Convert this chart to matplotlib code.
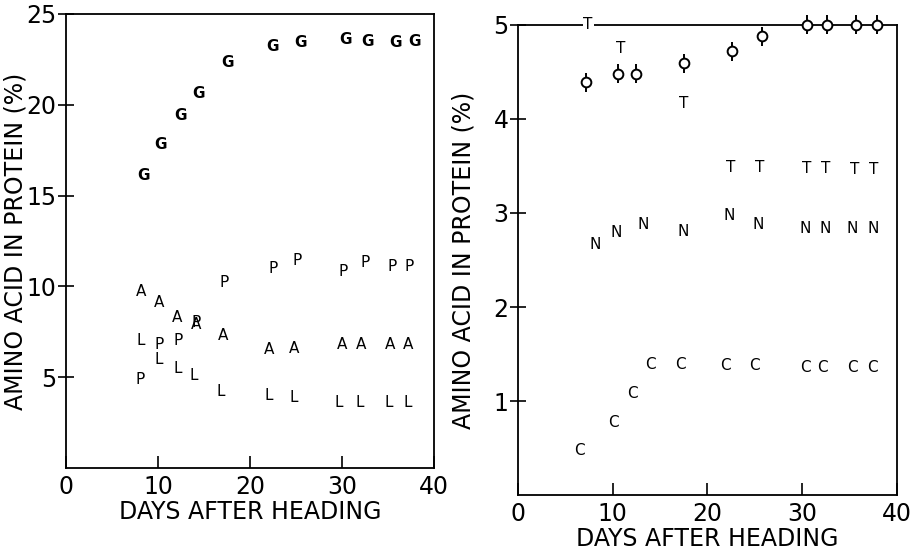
import matplotlib
matplotlib.use('Agg')
import matplotlib.pyplot as plt

# left panel: glycine (G), proline (P), alanine (A), leucine (L)
g_days = [8.4, 10.3, 12.4, 14.4, 17.6, 22.5, 25.5, 30.4, 32.8, 35.8, 37.9]
g_vals = [16.1, 17.8, 19.4, 20.6, 22.3, 23.2, 23.4, 23.6, 23.5, 23.4, 23.5]

p_days = [8.1, 10.1, 12.2, 14.1, 17.2, 22.5, 25.1, 30.1, 32.5, 35.5, 37.3]
p_vals = [4.9, 6.8, 7.0, 8.0, 10.2, 11.0, 11.4, 10.8, 11.3, 11.1, 11.1]

a_days = [8.2, 10.1, 12.1, 14.1, 17.1, 22.1, 24.8, 30.0, 32.1, 35.2, 37.2]
a_vals = [9.7, 9.1, 8.3, 7.9, 7.3, 6.5, 6.6, 6.8, 6.8, 6.8, 6.8]

l_days = [8.1, 10.1, 12.1, 13.9, 16.8, 22.0, 24.8, 29.7, 31.9, 35.1, 37.2]
l_vals = [7.0, 6.0, 5.5, 5.1, 4.2, 4.0, 3.9, 3.6, 3.6, 3.6, 3.6]

# right panel: phi (with bars), T, N, C
phi_days = [7.2, 10.5, 12.5, 17.5, 22.6, 25.8, 30.5, 32.6, 35.7, 37.9]
phi_vals = [4.39, 4.48, 4.48, 4.59, 4.72, 4.88, 5.0, 5.0, 5.0, 5.0]

t_days = [7.4, 10.8, 17.5, 22.5, 25.5, 30.5, 32.5, 35.5, 37.6]
t_vals = [5.0, 4.75, 4.16, 3.48, 3.48, 3.47, 3.47, 3.46, 3.46]

n_days = [8.1, 10.4, 13.2, 17.4, 22.3, 25.4, 30.3, 32.4, 35.3, 37.5]
n_vals = [2.67, 2.79, 2.88, 2.80, 2.97, 2.88, 2.84, 2.84, 2.84, 2.84]

c_days = [6.5, 10.1, 12.1, 14.0, 17.1, 21.9, 25.0, 30.3, 32.1, 35.3, 37.4]
c_vals = [0.47, 0.77, 1.08, 1.39, 1.39, 1.38, 1.38, 1.36, 1.36, 1.36, 1.36]

left_series = [('G', g_days, g_vals), ('P', p_days, p_vals),
               ('A', a_days, a_vals), ('L', l_days, l_vals)]
right_series = [('T', t_days, t_vals), ('N', n_days, n_vals),
                ('C', c_days, c_vals)]

fig = plt.figure(figsize=(9.17, 5.52), dpi=100)
ax1 = fig.add_axes([0.072, 0.152, 0.401, 0.823])
ax2 = fig.add_axes([0.565, 0.103, 0.413, 0.852])


def style(ax, ymax, yticks, ylab_x):
    ax.set_xlim(0, 40)
    ax.set_ylim(0, ymax)
    ax.set_xticks([0, 10, 20, 30, 40])
    ax.set_yticks(yticks)
    ax.tick_params(axis='x', direction='in', length=9, width=1.2,
                   labelsize=17, pad=5)
    ax.tick_params(axis='y', direction='inout', length=12, width=1.2,
                   labelsize=17, pad=1)
    for s in ax.spines.values():
        s.set_linewidth(1.3)
    ax.set_xlabel('DAYS AFTER HEADING', fontsize=17, labelpad=1)
    ax.set_ylabel('AMINO ACID IN PROTEIN (%)', fontsize=17)
    ax.yaxis.set_label_coords(ylab_x, 0.5)


style(ax1, 25, [5, 10, 15, 20, 25], -0.105)
style(ax2, 5, [1, 2, 3, 4, 5], -0.113)

for letter, xs, ys in left_series:
    for x, y in zip(xs, ys):
        ax1.text(x, y, letter, ha='center', va='center', fontsize=11,
                 fontweight='bold' if letter == 'G' else 'normal')

for letter, xs, ys in right_series:
    for x, y in zip(xs, ys):
        ax2.text(x, y, letter, ha='center', va='center', fontsize=11,
                 clip_on=False, zorder=5,
                 bbox=dict(fc='white', ec='none', pad=0.5) if y >= 4.99 else None)

ax2.errorbar(phi_days, phi_vals, yerr=0.1, fmt='o', ms=7, mfc='white',
             mec='black', mew=1.4, ecolor='black', elinewidth=1.4,
             capsize=0, clip_on=False, zorder=6)

fig.savefig('out.png', dpi=100)
